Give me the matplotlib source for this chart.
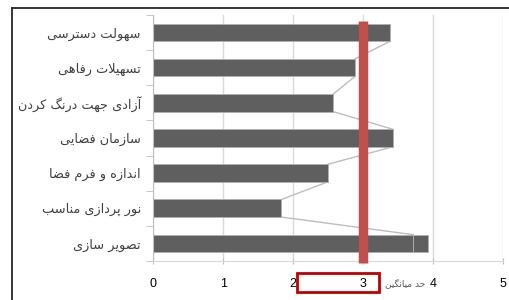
import matplotlib
matplotlib.use('Agg')
import matplotlib.pyplot as plt
from matplotlib.patches import Rectangle
from matplotlib.lines import Line2D

# categories, top to bottom
labels = ['سهولت دسترسی', 'تسهیلات رفاهی', 'آزادی جهت درنگ کردن', 'سازمان فضایی',
          'اندازه و فرم فضا', 'نور پردازی مناسب', 'تصویر سازی']
scores = [3.38, 2.88, 2.57, 3.42, 2.49, 1.83, 3.71]
extra = [0, 0, 0, 0, 0, 0, 0.21]
mean_value = 3.0
mean_label = 'حد میانگین'
xticks = [0, 1, 2, 3, 4, 5]

# simple persian shaping: contextual forms + right-to-left order
FORMS = {
    'ا': ('\uFE8D', '\uFE8E'), 'آ': ('\uFE81', '\uFE82'), 'د': ('\uFEA9', '\uFEAA'),
    'ذ': ('\uFEAB', '\uFEAC'), 'ر': ('\uFEAD', '\uFEAE'), 'ز': ('\uFEAF', '\uFEB0'),
    'ژ': ('\uFB8A', '\uFB8B'), 'و': ('\uFEED', '\uFEEE'),
    'ب': ('\uFE8F', '\uFE90', '\uFE91', '\uFE92'), 'پ': ('\uFB56', '\uFB57', '\uFB58', '\uFB59'),
    'ت': ('\uFE95', '\uFE96', '\uFE97', '\uFE98'), 'ج': ('\uFE9D', '\uFE9E', '\uFE9F', '\uFEA0'),
    'ح': ('\uFEA1', '\uFEA2', '\uFEA3', '\uFEA4'), 'س': ('\uFEB1', '\uFEB2', '\uFEB3', '\uFEB4'),
    'ص': ('\uFEB9', '\uFEBA', '\uFEBB', '\uFEBC'), 'ض': ('\uFEBD', '\uFEBE', '\uFEBF', '\uFEC0'),
    'ف': ('\uFED1', '\uFED2', '\uFED3', '\uFED4'), 'ک': ('\uFB8E', '\uFB8F', '\uFB90', '\uFB91'),
    'گ': ('\uFB92', '\uFB93', '\uFB94', '\uFB95'), 'ل': ('\uFEDD', '\uFEDE', '\uFEDF', '\uFEE0'),
    'م': ('\uFEE1', '\uFEE2', '\uFEE3', '\uFEE4'), 'ن': ('\uFEE5', '\uFEE6', '\uFEE7', '\uFEE8'),
    'ه': ('\uFEE9', '\uFEEA', '\uFEEB', '\uFEEC'), 'ی': ('\uFBFC', '\uFBFD', '\uFBFE', '\uFBFF'),
}


def shape(text):
    out = []
    i = 0
    n = len(text)
    while i < n:
        c = text[i]
        if c not in FORMS:
            out.append(c)
            i += 1
            continue
        prev = text[i - 1] if i > 0 else ''
        join_prev = prev in FORMS and len(FORMS[prev]) == 4
        if c == 'ل' and i + 1 < n and text[i + 1] in 'اآ':
            lig = ('\uFEFB', '\uFEFC') if text[i + 1] == 'ا' else ('\uFEF5', '\uFEF6')
            out.append(lig[1] if join_prev else lig[0])
            i += 2
            continue
        nxt = text[i + 1] if i + 1 < n else ''
        join_next = len(FORMS[c]) == 4 and nxt in FORMS
        f = FORMS[c]
        if join_prev and join_next:
            out.append(f[3])
        elif join_prev:
            out.append(f[1])
        elif join_next:
            out.append(f[2])
        else:
            out.append(f[0])
        i += 1
    return ''.join(out[::-1])


plt.rcParams['font.family'] = ['Liberation Sans', 'DejaVu Sans']

fig = plt.figure(figsize=(5.09, 3.0), dpi=100)
ax = fig.add_axes([0.3012, 0.13, 0.6876, 0.82])

pos = list(range(len(labels)))
ax.barh(pos, scores, height=0.5, color='#5f5f5f', edgecolor='#b0b0b0', linewidth=0.6, zorder=2)
ax.barh(pos, extra, left=scores, height=0.5, color='#5f5f5f', edgecolor='#b0b0b0',
        linewidth=0.6, zorder=2)

# series lines between bar ends
for i in range(len(scores) - 1):
    ax.plot([scores[i], scores[i + 1]], [i + 0.25, i + 1 - 0.25], color='#bdbdbd', lw=1, zorder=1)

# mean marker
ax.plot([mean_value, mean_value], [-0.34, 6.55], color='#c0504d', lw=6.8,
        solid_capstyle='butt', zorder=3, clip_on=False)

ax.set_xlim(0, 5)
ax.set_ylim(6.5, -0.5)
ax.set_xticks(xticks)
ax.set_xticklabels([str(t) for t in xticks], fontsize=9)
ax.set_yticks(pos)
ax.set_yticklabels([shape(l) for l in labels], fontsize=9.3, color='#404040',
                   family=['DejaVu Sans'])
ax.set_yticks([p - 0.5 for p in pos] + [6.5], minor=True)
ax.tick_params(axis='y', which='major', length=0, pad=9)
ax.tick_params(axis='y', which='minor', length=5, color='#bfbfbf')
ax.tick_params(axis='x', length=5, color='#bfbfbf', direction='inout', pad=10)
ax.grid(axis='x', color='#d9d9d9', lw=1, zorder=0)
ax.set_axisbelow(True)
for s in ['top', 'right']:
    ax.spines[s].set_visible(False)
ax.spines['left'].set_color('#bfbfbf')
ax.spines['bottom'].set_color('#d9d9d9')

# mean legend text and red box
fig.text(405 / 509, 1 - 283 / 300, shape(mean_label), fontsize=6.5, color='#595959',
         ha='center', va='center', family=['DejaVu Sans'])
fig.patches.append(Rectangle((297 / 509, 1 - 292 / 300), 82 / 509, 19 / 300, fill=False,
                             edgecolor='#c00000', lw=2, transform=fig.transFigure))

# outer frame (cropped)
fig.lines.append(Line2D([11.5 / 509, 1], [1 - 7.5 / 300, 1 - 7.5 / 300], color='#262626',
                        lw=1.3, transform=fig.transFigure))
fig.lines.append(Line2D([11.5 / 509, 11.5 / 509], [1 - 7.5 / 300, 0], color='#262626',
                        lw=1.3, transform=fig.transFigure))

fig.savefig('out.png', dpi=100)
